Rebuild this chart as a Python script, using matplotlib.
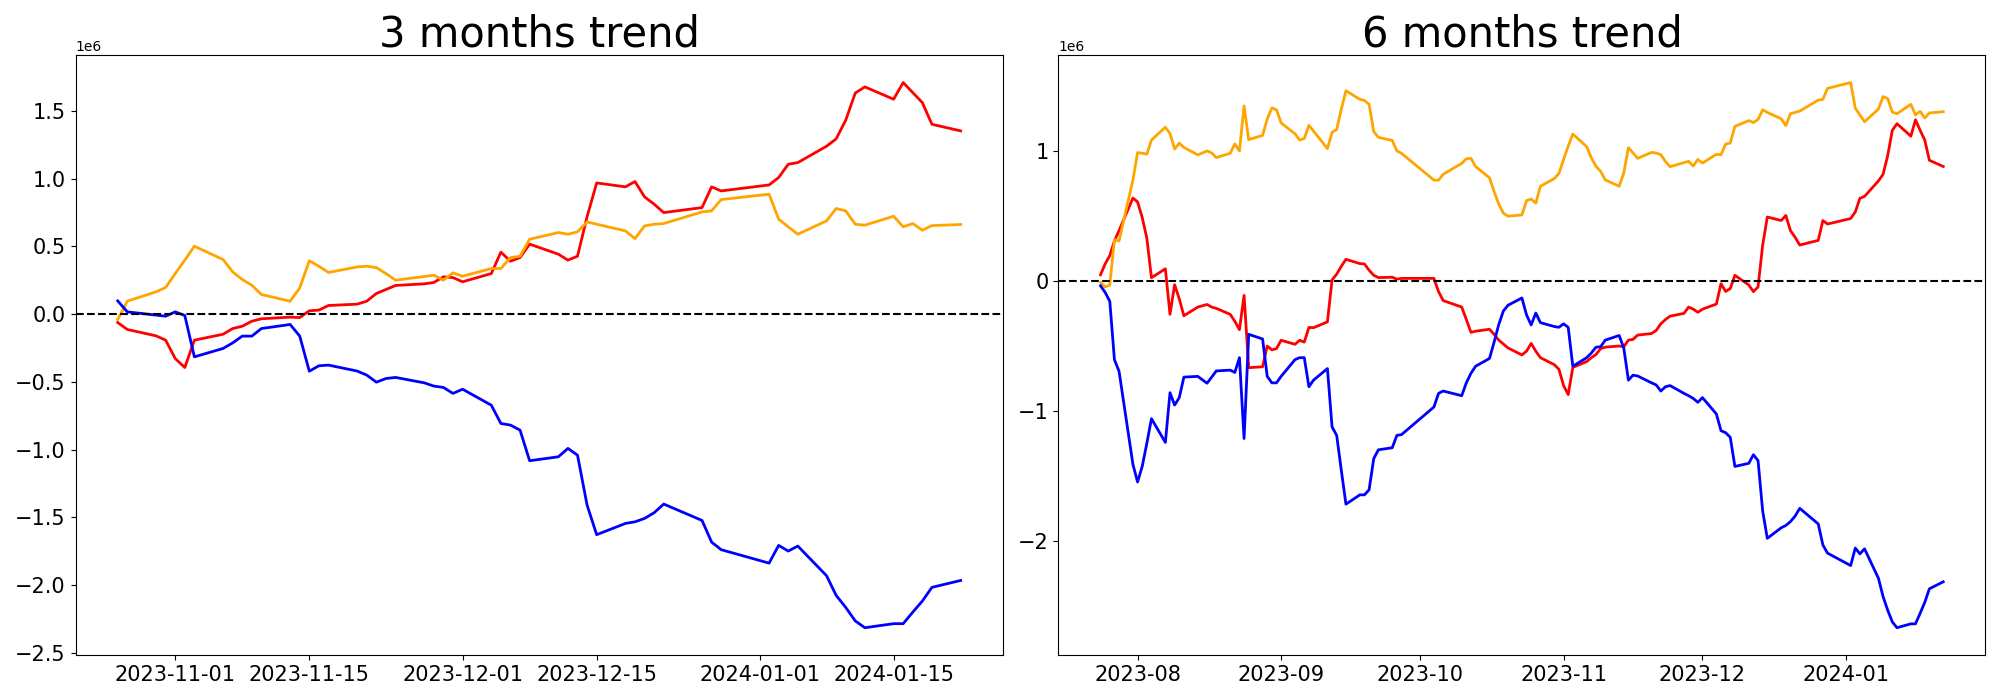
import numpy as np
import pandas as pd
import matplotlib
matplotlib.use("Agg")
import matplotlib.pyplot as plt
import matplotlib.dates as mdates

# ---- trading calendar (KRX holidays in range) ----
start_6m = "2023-07-24"
start_3m = "2023-10-26"
end_date = "2024-01-22"
holidays = ["2023-08-15", "2023-09-28", "2023-09-29", "2023-10-02", "2023-10-03",
            "2023-10-09", "2023-12-25", "2023-12-29", "2024-01-01"]

titles = ["3 months trend", "6 months trend"]
UNIT = 1e6

# ---- 3 months (values in millions) ----
red_3m = [-0.062, -0.113, -0.16, -0.192,
          -0.327, -0.394, -0.192, -0.148, -0.106, -0.089, -0.052, -0.034, -0.022, -0.025, 0.025, 0.03,
          0.064, 0.074, 0.096, 0.153, 0.182, 0.212, 0.224, 0.234, 0.276, 0.27,
          0.239, 0.3, 0.458, 0.391, 0.418, 0.517, 0.443, 0.399, 0.428, 0.72, 0.969, 0.94, 0.979, 0.866,
          0.812, 0.75, 0.787, 0.94, 0.91,
          0.954, 1.009, 1.107, 1.119, 1.24, 1.294, 1.432, 1.633, 1.678, 1.587, 1.71, 1.636, 1.562, 1.402, 1.353]
orange_3m = [-0.039, 0.096, 0.165, 0.197,
             0.3, 0.399, 0.502, 0.403, 0.312, 0.256, 0.214, 0.145, 0.096, 0.194, 0.394, 0.354,
             0.308, 0.349, 0.354, 0.344, 0.3, 0.251, 0.278, 0.288, 0.251, 0.305,
             0.28, 0.337, 0.337, 0.418, 0.428, 0.553, 0.603, 0.59, 0.608, 0.681, 0.664, 0.615, 0.558, 0.652,
             0.664, 0.669, 0.755, 0.763, 0.846,
             0.886, 0.701, 0.645, 0.59, 0.689, 0.78, 0.763, 0.664, 0.657, 0.723, 0.645, 0.669, 0.62, 0.654, 0.662]
blue_3m = [0.098, 0.017, -0.007, -0.015,
           0.017, -0.01, -0.315, -0.253, -0.212, -0.162, -0.162, -0.106, -0.076, -0.162, -0.421, -0.381,
           -0.376, -0.42, -0.45, -0.502, -0.475, -0.467, -0.507, -0.531, -0.541, -0.585,
           -0.554, -0.672, -0.807, -0.819, -0.856, -1.082, -1.053, -0.991, -1.041, -1.41, -1.628, -1.545,
           -1.533, -1.508, -1.466, -1.402, -1.523, -1.683, -1.739,
           -1.838, -1.707, -1.749, -1.712, -1.931, -2.076, -2.165, -2.265, -2.315, -2.285, -2.285, -2.2,
           -2.118, -2.017, -1.966]

# ---- 6 months (values in millions) ----
red_6m = [0.049, 0.133, 0.197, 0.31, 0.39, 0.64,
          0.61, 0.49, 0.33, 0.026, 0.095, -0.256, -0.028, -0.136, -0.267, -0.2, -0.18, -0.2, -0.21,
          -0.256, -0.31, -0.374, -0.11, -0.667, -0.66, -0.50, -0.53, -0.52,
          -0.456, -0.487, -0.456, -0.47, -0.357, -0.359, -0.314, 0.009, 0.054, 0.114, 0.168, 0.135,
          0.132, 0.084, 0.045, 0.027, 0.03, 0.015, 0.021,
          0.021, -0.081, -0.15, -0.2, -0.296, -0.395, -0.386, -0.371, -0.41, -0.455, -0.485, -0.515,
          -0.569, -0.54, -0.48, -0.54, -0.59, -0.644, -0.68,
          -0.805, -0.874, -0.665, -0.62, -0.59, -0.566, -0.52, -0.509, -0.5, -0.506, -0.455, -0.449,
          -0.416, -0.404, -0.38, -0.329, -0.296, -0.27, -0.249, -0.2, -0.216, -0.24,
          -0.216, -0.177, -0.02, -0.08, -0.057, 0.045, -0.03, -0.081, -0.045, 0.278, 0.494, 0.467,
          0.506, 0.389, 0.338, 0.278, 0.314, 0.467, 0.44,
          0.482, 0.533, 0.638, 0.653, 0.772, 0.823, 0.967, 1.162, 1.213, 1.117, 1.243, 1.162, 1.087,
          0.931, 0.883]
orange_6m = [-0.01, -0.045, -0.03, 0.32, 0.31, 0.78,
             0.991, 0.985, 0.979, 1.087, 1.186, 1.138, 1.018, 1.063, 1.03, 0.973, 1.003, 0.988, 0.952,
             0.985, 1.057, 1.003, 1.35, 1.09, 1.123, 1.25, 1.335, 1.32,
             1.219, 1.135, 1.087, 1.099, 1.2, 1.156, 1.021, 1.147, 1.168, 1.326, 1.467, 1.401, 1.392,
             1.362, 1.153, 1.108, 1.084, 1.003, 0.985,
             0.778, 0.778, 0.823, 0.907, 0.943, 0.946, 0.883, 0.796, 0.69, 0.593, 0.524, 0.5, 0.51,
             0.62, 0.633, 0.6, 0.731, 0.79, 0.83,
             0.937, 1.04, 1.133, 1.036, 0.949, 0.885, 0.846, 0.78, 0.731, 0.833, 1.028, 0.988, 0.946,
             0.992, 0.987, 0.974, 0.922, 0.882, 0.913, 0.923, 0.887, 0.938,
             0.91, 0.977, 0.974, 1.056, 1.064, 1.192, 1.237, 1.222, 1.246, 1.32, 1.30, 1.251, 1.198,
             1.29, 1.30, 1.31, 1.395, 1.40, 1.485,
             1.53, 1.332, 1.28, 1.228, 1.326, 1.422, 1.407, 1.302, 1.29, 1.362, 1.281, 1.308, 1.257,
             1.296, 1.305]
blue_6m = [-0.036, -0.087, -0.156, -0.605, -0.695, -1.413,
           -1.548, -1.428, -1.25, -1.06, -1.243, -0.86, -0.955, -0.898, -0.74, -0.734, -0.787, -0.74,
           -0.692, -0.686, -0.704, -0.59, -1.213, -0.41, -0.446, -0.734, -0.784, -0.784,
           -0.734, -0.605, -0.59, -0.59, -0.814, -0.763, -0.674, -1.123, -1.189, -1.458, -1.719, -1.647,
           -1.647, -1.608, -1.368, -1.3, -1.284, -1.189, -1.183,
           -0.97, -0.865, -0.847, -0.883, -0.784, -0.71, -0.656, -0.596, -0.47, -0.335, -0.23, -0.186,
           -0.13, -0.26, -0.338, -0.246, -0.32, -0.35, -0.356,
           -0.329, -0.356, -0.656, -0.59, -0.554, -0.509, -0.506, -0.455, -0.419, -0.515, -0.763, -0.725,
           -0.731, -0.784, -0.8, -0.847, -0.814, -0.805, -0.865, -0.883, -0.904, -0.934,
           -0.898, -1.024, -1.153, -1.168, -1.204, -1.428, -1.404, -1.338, -1.383, -1.772, -1.982, -1.901,
           -1.883, -1.853, -1.811, -1.751, -1.871, -2.033, -2.096,
           -2.192, -2.057, -2.102, -2.063, -2.29, -2.431, -2.536, -2.626, -2.671, -2.641, -2.641, -2.56,
           -2.476, -2.371, -2.317]

dates_6m = pd.bdate_range(start_6m, end_date, freq="C", holidays=holidays)
dates_3m = dates_6m[dates_6m >= pd.Timestamp(start_3m)]

fig = plt.figure(figsize=(20, 7), dpi=100)
ax1 = fig.add_axes([0.0378, 0.0643, 0.4636, 0.8567])
ax2 = fig.add_axes([0.5292, 0.0643, 0.4635, 0.8567])

panels = [
    (ax1, dates_3m, red_3m, orange_3m, blue_3m),
    (ax2, dates_6m, red_6m, orange_6m, blue_6m),
]
for (ax, d, r, o, b), title in zip(panels, titles):
    ax.plot(d, np.array(r) * UNIT, color="red", lw=2)
    ax.plot(d, np.array(o) * UNIT, color="orange", lw=2)
    ax.plot(d, np.array(b) * UNIT, color="blue", lw=2)
    ax.axhline(0, color="black", linestyle="--", lw=1.5)
    ax.set_title(title, fontsize=30)
    ax.tick_params(labelsize=15)

ax1.xaxis.set_major_locator(mdates.DayLocator(bymonthday=[1, 15]))
ax1.xaxis.set_major_formatter(mdates.DateFormatter("%Y-%m-%d"))
ax2.xaxis.set_major_locator(mdates.MonthLocator())
ax2.xaxis.set_major_formatter(mdates.DateFormatter("%Y-%m"))

fig.savefig("out.png", dpi=100)
